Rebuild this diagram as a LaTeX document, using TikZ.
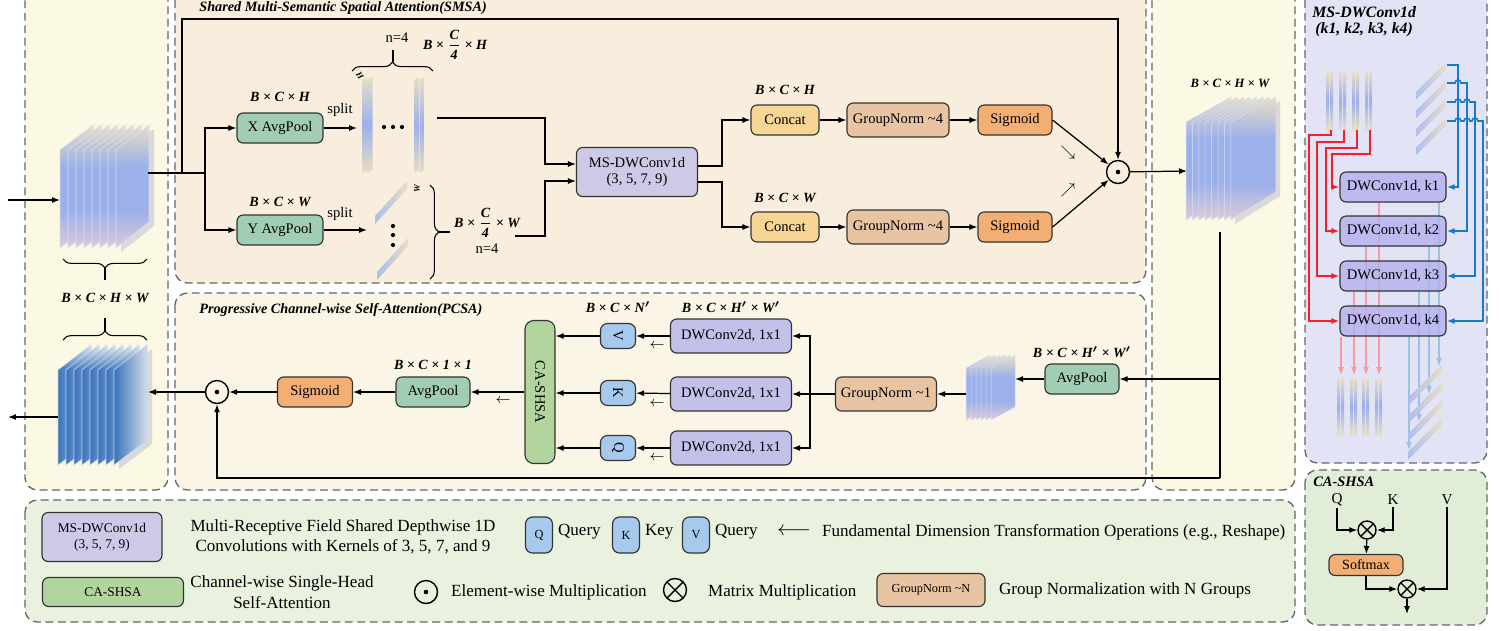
\documentclass[tikz,border=0pt]{standalone}
\usepackage{amsmath}
\usepackage{graphicx}
\usepackage{fontspec}
\setmainfont{Liberation Serif}
\usetikzlibrary{arrows.meta,calc,decorations.pathreplacing}

\definecolor{panelyel}{HTML}{FBF8E3}
\definecolor{panelsmsa}{HTML}{F9EEDD}
\definecolor{panelpcsa}{HTML}{FBF5E6}
\definecolor{panelms}{HTML}{E3E3F6}
\definecolor{panelca}{HTML}{E2EDD8}
\definecolor{panelleg}{HTML}{E9F2DF}
\definecolor{poolgreen}{HTML}{A2CDB5}
\definecolor{msblue}{HTML}{CDCAE8}
\definecolor{dwconv}{HTML}{C3C0EA}
\definecolor{dwone}{HTML}{B3B0EE}
\definecolor{concat}{HTML}{F6D595}
\definecolor{gnorm}{HTML}{E9C4A2}
\definecolor{sigm}{HTML}{F3AE74}
\definecolor{qkv}{HTML}{A8C9EE}
\definecolor{cagreen}{HTML}{B2D59E}
\definecolor{redline}{HTML}{F0202C}
\definecolor{blueline}{HTML}{1B79C9}
\definecolor{sheetA}{HTML}{9CB0EA}
\definecolor{sheetB}{HTML}{E8DEC6}
\definecolor{sheetE}{HTML}{DCCCD6}
\definecolor{sheetC}{HTML}{3A73BC}
\definecolor{sheetD}{HTML}{D3DDEA}

\pgfdeclareverticalshading{sheetshade}{100bp}{color(0bp)=(sheetE); color(25bp)=(sheetE);
  color(40bp)=(sheetA); color(58bp)=(sheetA); color(75bp)=(sheetB); color(100bp)=(sheetB)}

\pgfdeclarelayer{panels}
\pgfdeclarelayer{back}
\pgfsetlayers{panels,back,main}

\tikzset{
  >={Latex[length=1.6mm,width=1.2mm]},
  panel/.style={draw=black!60, dash pattern=on 4.5pt off 2.6pt, line width=0.75pt, rounded corners=7pt},
  blk/.style={draw=black!80, line width=0.65pt, rounded corners=3.5pt, inner sep=1pt, align=center, font=\fontsize{8.3}{9.6}\selectfont},
  dim/.style={font=\fontsize{8}{9}\selectfont\bfseries\itshape\boldmath, inner sep=1pt},
  ttl/.style={font=\fontsize{8.1}{9}\selectfont\bfseries\itshape, anchor=west, inner sep=0pt},
  txt/.style={font=\fontsize{8.3}{9.6}\selectfont, inner sep=1pt},
  leg/.style={font=\fontsize{9.7}{11.6}\selectfont, align=center, inner sep=1pt},
  conn/.style={->, line width=0.7pt},
  odot/.style={circle, draw, line width=0.8pt, minimum size=0.46cm, inner sep=0pt,
    path picture={\fill (path picture bounding box.center) circle (1.3pt);}},
  otimes/.style={circle, draw, line width=0.8pt, minimum size=0.36cm, inner sep=0pt,
    path picture={\draw[line width=0.8pt] (path picture bounding box.north west) -- (path picture bounding box.south east)
      (path picture bounding box.north east) -- (path picture bounding box.south west);}},
  sheet/.style={draw=white!60!sheetA, line width=0.3pt, shading=sheetshade},
  darksheet/.style={draw=white!70!sheetC, line width=0.3pt, left color=sheetC, right color=sheetD},
  strip/.style={top color=sheetB, bottom color=sheetB, middle color=sheetA},
  dstrip/.style={left color=sheetA!85, right color=sheetB},
  redarr/.style={->, draw=redline, line width=0.9pt},
  bluearr/.style={->, draw=blueline, line width=0.9pt},
  pinkout/.style={->, draw=redline!45, line width=0.6pt},
  blueout/.style={->, draw=blueline!45, line width=0.6pt},
}

\begin{document}
\begin{tikzpicture}[x=0.02cm,y=-0.02cm]
\useasboundingbox (0,0) rectangle (1500,630);

% panels
\begin{pgfonlayer}{panels}
\fill[white] (0,0) rectangle (1500,630);
\draw[panel,fill=panelyel] (25,-12) rectangle (168,490);
\draw[panel,fill=panelsmsa] (175,-12) rectangle (1146,283);
\draw[panel,fill=panelpcsa] (175,293) rectangle (1146,490);
\draw[panel,fill=panelyel] (1152,-12) rectangle (1295,490);
\draw[panel,fill=panelms] (1305,-12) rectangle (1487,463);
\draw[panel,fill=panelca] (1305,470) rectangle (1487,625);
\draw[panel,fill=panelleg] (25,500) rectangle (1295,622);
\end{pgfonlayer}

\node[ttl] (smsaT) at (199,8) {Shared Multi-Semantic Spatial Attention(SMSA)};
\node[ttl] (pcsaT) at (199,310) {Progressive Channel-wise Self-Attention(PCSA)};
\node[ttl,font=\fontsize{9}{10}\selectfont\bfseries\itshape] (msT) at (1312,12) {MS-DWConv1d};
\node[ttl,font=\fontsize{9}{10}\selectfont\bfseries\itshape] (msT2) at (1315,30) {(k1, k2, k3, k4)};
\node[ttl,font=\fontsize{8.2}{9}\selectfont\bfseries\itshape] (caT) at (1313,482) {CA-SHSA};

% input feature map
\fill[black!15] (121,154) -- ++(33,-25) -- ++(0,97) -- ++(-33,26) -- cycle;
\foreach \i in {0,...,7}
  \path[sheet] ({60+8*\i},150) -- ++(33,-25) -- ++(0,97) -- ++(-33,26) -- cycle;
\coordinate (inS) at (8,200);
\coordinate (inL) at (60,200);
\coordinate (inR) at (148,173);
\coordinate (loop) at (182,173);
\coordinate (sp) at (205,173);
\draw[conn] (inS) -- (inL);
\draw[decorate,decoration={brace,amplitude=5pt},line width=0.6pt] (147,259) -- (63,259);
\draw[line width=0.6pt] (105,268) -- (105,280);
\node[dim] (dimL) at (105,298) {B × C × H × W};
\draw[decorate,decoration={brace,amplitude=5pt},line width=0.6pt] (63,340) -- (147,340);
\draw[line width=0.6pt] (105,331) -- (105,318);

% output feature map
\fill[black!15] (119,374) -- ++(33,-25) -- ++(0,95) -- ++(-33,25) -- cycle;
\foreach \i in {0,...,7}
  \path[darksheet] ({58+8*\i},370) -- ++(33,-25) -- ++(0,95) -- ++(-33,25) -- cycle;
\coordinate (oL) at (58,417);
\coordinate (oE) at (8,417);
\coordinate (oR) at (148,392);
\draw[conn] (oL) -- (oE);

% SMSA
\node[blk,fill=poolgreen,minimum width=1.72cm,minimum height=0.6cm] (xpool) at (280,128) {X AvgPool};
\node[blk,fill=poolgreen,minimum width=1.72cm,minimum height=0.6cm] (ypool) at (280,230) {Y AvgPool};
\node[dim] at (280,97) {B × C × H};
\node[dim] at (280,202) {B × C × W};
\draw[line width=0.7pt] (inR) -- (sp);
\draw[conn] (sp) |- (xpool);
\draw[conn] (sp) |- (ypool);
\node[txt] at (340,110) {split};
\node[txt] at (340,214) {split};
\coordinate (xs) at (357,128);
\coordinate (ys) at (367,230);
\draw[conn] (xpool) -- (xs);
\draw[conn] (ypool) -- (ys);

\foreach \x in {362,367.5,414,419.5}
  \path[strip] (\x,80) -- ++(5,-3) -- ++(0,93) -- ++(-5,3) -- cycle;
\foreach \x in {384,393,402}
  \fill (\x,127) circle (1.2pt);
\draw[decorate,decoration={brace,amplitude=5pt},line width=0.6pt] (352,71) -- (433,71);
\draw[line width=0.6pt] (393,62) -- (393,50);
\node[txt] at (397,38) {n=4};
\node[dim] at (455,45) {B × $\dfrac{\text{C}}{\text{4}}$ × H};
\node[font=\fontsize{5}{5}\selectfont\bfseries\itshape,rotate=-55,inner sep=0pt] at (360,76) {H};

\foreach \o in {0,4} {
  \path[dstrip] (375,{216+\o}) -- (407,{181+\o}) -- (407,{185+\o}) -- (375,{220+\o}) -- cycle;
  \path[dstrip] (377,{272+\o}) -- (408,{238+\o}) -- (408,{242+\o}) -- (377,{276+\o}) -- cycle;
}
\foreach \y in {226,235,245}
  \fill (393,\y) circle (1.2pt);
\node[font=\fontsize{5}{5}\selectfont\bfseries\itshape,rotate=90,inner sep=0pt] at (417,189) {W};
\draw[decorate,decoration={brace,amplitude=5pt},line width=0.6pt] (430,185) -- (430,279);
\draw[line width=0.6pt] (439,232) -- (450,232);
\node[dim] at (487,223) {B × $\dfrac{\text{C}}{\text{4}}$ × W};
\node[txt] at (487,249) {n=4};

\node[blk,fill=msblue,minimum width=2.42cm,minimum height=0.98cm] (ms) at (637,172) {MS-DWConv1d\\(3, 5, 7, 9)};
\coordinate (xo) at (437,118);
\coordinate (yo) at (515,236);
\draw[conn] (xo) -- (545,118) -- (545,164) -- ($(ms.west)+(0,-8)$);
\draw[conn] (yo) -- (545,236) -- (545,181) -- ($(ms.west)+(0,9)$);

\node[blk,fill=concat,minimum width=1.36cm,minimum height=0.6cm] (cat1) at (785,120) {Concat};
\node[blk,fill=concat,minimum width=1.36cm,minimum height=0.6cm] (cat2) at (785,227) {Concat};
\node[dim] at (785,90) {B × C × H};
\node[dim] at (785,198) {B × C × W};
\node[blk,fill=gnorm,minimum width=2.04cm,minimum height=0.68cm] (gn1) at (898,120) {GroupNorm \textasciitilde 4};
\node[blk,fill=gnorm,minimum width=2.04cm,minimum height=0.68cm] (gn2) at (898,227) {GroupNorm \textasciitilde 4};
\node[blk,fill=sigm,minimum width=1.48cm,minimum height=0.6cm] (sg1) at (1015,120) {Sigmoid};
\node[blk,fill=sigm,minimum width=1.48cm,minimum height=0.6cm] (sg2) at (1015,227) {Sigmoid};
\draw[conn] ($(ms.east)+(0,-6)$) -- (722,166) |- (cat1);
\draw[conn] ($(ms.east)+(0,10)$) -- (722,182) |- (cat2);
\draw[conn] (cat1) -- (gn1);
\draw[conn] (gn1) -- (sg1);
\draw[conn] (cat2) -- (gn2);
\draw[conn] (gn2) -- (sg2);

\node[odot] (m1) at (1118,172) {};
\draw[conn] (sg1.east) -- (m1);
\draw[conn] (sg2.east) -- (m1);
\node[font=\fontsize{8}{8}\selectfont,inner sep=0pt] at (1068,153) {$\searrow$};
\node[font=\fontsize{8}{8}\selectfont,inner sep=0pt] at (1068,190) {$\nearrow$};
\draw[conn] (loop) -- (182,19) -| (m1);
\coordinate (rin) at (1187,171);
\draw[conn] (m1) -- (rin);

% SMSA output
\fill[black!15] (1235,126) -- ++(45,-25) -- ++(0,95) -- ++(-45,28) -- cycle;
\foreach \i in {0,...,7}
  \path[sheet] ({1186+6.4*\i},122) -- ++(45,-25) -- ++(0,95) -- ++(-45,28) -- cycle;
\node[dim,font=\fontsize{7.2}{8}\selectfont\bfseries\itshape] at (1230,83) {B × C × H × W};
\coordinate (rtop) at (1220,232);
\coordinate (rmid) at (1220,379);
\coordinate (rbot) at (1220,478);
\draw[line width=0.7pt] (rtop) -- (rbot);

% PCSA
\node[blk,fill=poolgreen,minimum width=1.48cm,minimum height=0.6cm] (pool3) at (1082,379) {AvgPool};
\node[dim] at (1082,352) {B × C × H$'$ × W$'$};
\draw[conn] (rmid) -- (pool3);
\foreach \i in {0,...,5}
  \path[sheet] ({966+5*\i},368) -- ++(24,-13) -- ++(0,52) -- ++(-24,13) -- cycle;
\coordinate (s2R) at (1015,379);
\coordinate (s2L) at (966,394);
\draw[conn] (pool3) -- (s2R);
\node[blk,fill=gnorm,minimum width=2.02cm,minimum height=0.68cm] (gn3) at (886,394) {GroupNorm \textasciitilde 1};
\draw[conn] (s2L) -- (gn3);

\node[blk,fill=dwconv,minimum width=2.42cm,minimum height=0.68cm] (dwv) at (731,336) {DWConv2d, 1x1};
\node[blk,fill=dwconv,minimum width=2.42cm,minimum height=0.68cm] (dwk) at (731,394) {DWConv2d, 1x1};
\node[blk,fill=dwconv,minimum width=2.42cm,minimum height=0.68cm] (dwq) at (731,448) {DWConv2d, 1x1};
\node[dim] at (731,307) {B × C × H$'$ × W$'$};
\coordinate (br) at (810,394);
\draw[line width=0.7pt] (gn3) -- (br);
\draw[conn] (br) |- (dwv);
\draw[conn] (br) -- (dwk);
\draw[conn] (br) |- (dwq);

\node[blk,fill=qkv,minimum width=0.7cm,minimum height=0.5cm,rounded corners=4pt] (bv) at (618,336) {\rotatebox{-90}{V}};
\node[blk,fill=qkv,minimum width=0.7cm,minimum height=0.5cm,rounded corners=4pt] (bk) at (618,393) {\rotatebox{-90}{K}};
\node[blk,fill=qkv,minimum width=0.7cm,minimum height=0.5cm,rounded corners=4pt] (bq) at (618,448) {\rotatebox{-90}{Q}};
\node[dim] at (618,307) {B × C × N$'$};
\draw[conn] (dwv) -- (bv);
\draw[conn] (dwk) -- (bk);
\draw[conn] (dwq) -- (bq);
\foreach \y in {346,404,458}
  \node[font=\fontsize{8}{8}\selectfont,inner sep=0pt] at (657,\y) {$\leftarrow$};

\node[blk,fill=cagreen,minimum width=0.6cm,minimum height=2.86cm,rounded corners=5pt] (ca) at (540,392) {\rotatebox{-90}{CA-SHSA}};
\draw[conn] (bv.west) -- (bv.west -| ca.east);
\draw[conn] (bk.west) -- (bk.west -| ca.east);
\draw[conn] (bq.west) -- (bq.west -| ca.east);
\node[font=\fontsize{8}{8}\selectfont,inner sep=0pt] at (503,401) {$\leftarrow$};

\node[blk,fill=poolgreen,minimum width=1.48cm,minimum height=0.6cm] (pool2) at (433,392) {AvgPool};
\node[dim] at (433,365) {B × C × 1 × 1};
\node[blk,fill=sigm,minimum width=1.5cm,minimum height=0.6cm] (sg3) at (315,392) {Sigmoid};
\node[odot] (m2) at (217,392) {};
\draw[conn] (ca) -- (pool2);
\draw[conn] (pool2) -- (sg3);
\draw[conn] (sg3) -- (m2);
\draw[conn] (m2) -- (oR);
\draw[conn] (rbot) -| (m2);

% MS-DWConv1d detail
\foreach \x in {1326,1339,1352,1365}
  \foreach \o in {0,4}
    \path[strip] ({\x+\o},72) rectangle ++(3.2,58);
\foreach \k in {0,...,3}
  \foreach \o in {0,4}
    \path[dstrip] (1416,{92+18.5*\k+\o}) -- (1446,{62+18.5*\k+\o}) -- (1446,{65.5+18.5*\k+\o}) -- (1416,{95.5+18.5*\k+\o}) -- cycle;
\foreach \x in {1337,1350,1362,1375}
  \foreach \o in {0,4}
    \path[strip] ({\x+\o},378) rectangle ++(3.2,57);
\foreach \k in {0,...,3}
  \foreach \o in {0,4}
    \path[dstrip] (1408,{398+18*\k+\o}) -- (1442,{364+18*\k+\o}) -- (1442,{367.5+18*\k+\o}) -- (1408,{401.5+18*\k+\o}) -- cycle;

\node[blk,fill=dwone,fill opacity=0.8,text opacity=1,minimum width=2.12cm,minimum height=0.6cm] (k1) at (1393,187) {DWConv1d, k1};
\node[blk,fill=dwone,fill opacity=0.8,text opacity=1,minimum width=2.12cm,minimum height=0.6cm] (k2) at (1393,231) {DWConv1d, k2};
\node[blk,fill=dwone,fill opacity=0.8,text opacity=1,minimum width=2.12cm,minimum height=0.6cm] (k3) at (1393,276) {DWConv1d, k3};
\node[blk,fill=dwone,fill opacity=0.8,text opacity=1,minimum width=2.12cm,minimum height=0.6cm] (k4) at (1393,321) {DWConv1d, k4};

\draw[redarr] (1331,130) -- (1331,135) -- (1309,135) |- (k4);
\draw[redarr] (1344,130) -- (1344,142) -- (1317,142) |- (k3);
\draw[redarr] (1357,130) -- (1357,148) -- (1326,148) |- (k2);
\draw[redarr] (1370,130) -- (1370,154) -- (1332,154) |- (k1);

\draw[bluearr] (1447,65) -- (1458,65) |- (k1);
\draw[bluearr] (1447,83) -- (1455,83) arc[start angle=180,end angle=0,radius=1.7pt] -- (1467,83) |- (k2);
\draw[bluearr] (1447,102) -- (1455,102) arc[start angle=180,end angle=0,radius=1.7pt] -- (1464,102)
  arc[start angle=180,end angle=0,radius=1.7pt] -- (1475,102) |- (k3);
\draw[bluearr] (1447,121) -- (1455,121) arc[start angle=180,end angle=0,radius=1.7pt] -- (1464,121)
  arc[start angle=180,end angle=0,radius=1.7pt] -- (1472,121)
  arc[start angle=180,end angle=0,radius=1.7pt] -- (1483,121) |- (k4);

\begin{pgfonlayer}{back}
\draw[pinkout] ($(k1.south)+(-14,0)$) -- (1379,375);
\draw[pinkout] ($(k2.south)+(-27,0)$) -- (1366,375);
\draw[pinkout] ($(k3.south)+(-39,0)$) -- (1354,375);
\draw[pinkout] ($(k4.south)+(-52,0)$) -- (1341,375);
\draw[blueout] ($(k1.south)+(46,0)$) -- (1439,366);
\draw[blueout] ($(k2.south)+(36,0)$) -- (1429,394);
\draw[blueout] ($(k3.south)+(26,0)$) -- (1419,422);
\draw[blueout] ($(k4.south)+(16,0)$) -- (1409,450);
\end{pgfonlayer}

% CA-SHSA detail
\node[txt,font=\fontsize{8.6}{10}\selectfont] (qlab) at (1337,500) {Q};
\node[txt,font=\fontsize{8.6}{10}\selectfont] (klab) at (1393,500) {K};
\node[txt,font=\fontsize{8.6}{10}\selectfont] (vlab) at (1447,500) {V};
\node[otimes] (t1) at (1367,530) {};
\node[blk,fill=sigm,minimum width=1.48cm,minimum height=0.42cm,font=\fontsize{8}{9}\selectfont] (soft) at (1366,565) {Softmax};
\node[otimes] (t2) at (1407,589) {};
\coordinate (caout) at (1407,614);
\draw[conn] (qlab) |- (t1);
\draw[conn] (klab) |- (t1);
\draw[conn] (t1) -- (soft);
\draw[conn] (soft) |- (t2);
\draw[conn] (vlab) |- (t2);
\draw[conn] (t2) -- (caout);

% legend
\node[blk,fill=msblue,minimum width=2.4cm,minimum height=0.98cm,font=\fontsize{7.6}{9}\selectfont] (lms) at (102,537) {MS-DWConv1d\\(3, 5, 7, 9)};
\node[leg] (lmsT) at (343,537) {Multi-Receptive Field Shared Depthwise 1D\\Convolutions with Kernels of 3, 5, 7, and 9};
\node[blk,fill=qkv,minimum width=0.54cm,minimum height=0.72cm,rounded corners=4pt,font=\fontsize{7}{8}\selectfont] (lq) at (539,535) {Q};
\node[leg,anchor=west] (lqT) at (556,532) {Query};
\node[blk,fill=qkv,minimum width=0.54cm,minimum height=0.72cm,rounded corners=4pt,font=\fontsize{7}{8}\selectfont] (lk) at (626,535) {K};
\node[leg,anchor=west] (lkT) at (643,532) {Key};
\node[blk,fill=qkv,minimum width=0.54cm,minimum height=0.72cm,rounded corners=4pt,font=\fontsize{7}{8}\selectfont] (lv) at (696,535) {V};
\node[leg,anchor=west] (lvT) at (713,532) {Query};
\node[font=\fontsize{12}{12}\selectfont,inner sep=0pt] (larr) at (794,532) {$\longleftarrow$};
\node[leg,anchor=west] (larrT) at (820,532) {Fundamental Dimension Transformation Operations (e.g., Reshape)};
\node[blk,fill=cagreen,minimum width=2.82cm,minimum height=0.58cm,font=\fontsize{7.6}{9}\selectfont] (lca) at (113,592) {CA-SHSA};
\node[leg] (lcaT) at (282,592) {Channel-wise Single-Head\\Self-Attention};
\node[odot] (lodot) at (426,592) {};
\node[leg,anchor=west] (lodotT) at (449,592) {Element-wise Multiplication};
\node[otimes,minimum size=0.46cm] (lotimes) at (675,590) {};
\node[leg,anchor=west] (lotimesT) at (706,592) {Matrix Multiplication};
\node[blk,fill=gnorm,minimum width=2.16cm,minimum height=0.66cm,font=\fontsize{7}{8}\selectfont] (lgn) at (931,590) {GroupNorm \textasciitilde N};
\node[leg,anchor=west] (lgnT) at (997,590) {Group Normalization with N Groups};
\end{tikzpicture}
\end{document}
